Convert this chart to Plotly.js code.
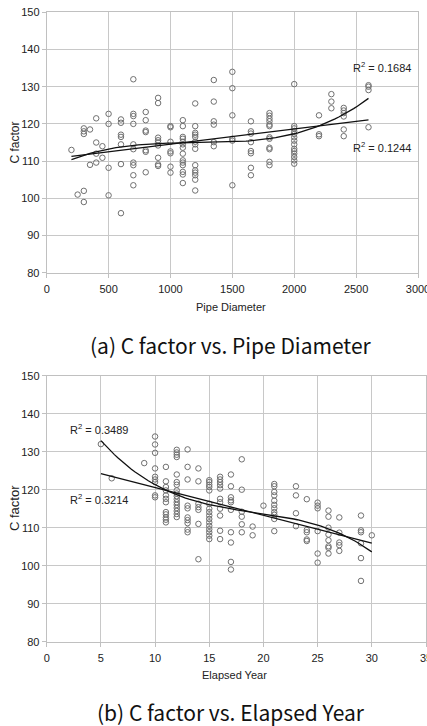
<!DOCTYPE html>
<html>
<head>
<meta charset="utf-8">
<script src="https://cdn.plot.ly/plotly-3.0.1.min.js"></script>
<style>html,body{margin:0;padding:0;background:#fff;}#chart{width:427px;height:726px;}</style>
</head>
<body>
<div id="chart"></div>
<script>
// ---------- Data: (a) C factor vs. Pipe Diameter ----------
const diameterGroups = [200, 250, 300, 350, 400, 450, 500, 600, 700, 800, 900, 1000, 1100, 1200, 1350, 1500, 1650, 1800, 2000, 2200, 2300, 2400, 2600];
const cFactorByDiameter = [
  [113],
  [101],
  [102, 99, 118.8, 118, 117.3],
  [118.5, 109],
  [121.5, 115, 112, 109.6],
  [114, 110.9],
  [122.7, 120, 108.2, 100.8],
  [121.2, 120.3, 117.1, 116.5, 114.5, 109.2, 96],
  [132, 122.7, 122.1, 120, 114.5, 113.2, 109.6, 108.9, 106.2, 103.5],
  [123.2, 121, 118.2, 117.8, 112.9, 112.5, 107],
  [127, 125.6, 116.3, 115.6, 115, 114.2, 110.9, 109.1, 108.7],
  [119.4, 119.1, 115.2, 112.6, 112.1, 108.5, 106.9],
  [121, 119.4, 116.5, 116, 115.2, 114.5, 113.6, 112, 110.2, 109.6, 108.9, 107.1, 106.4, 104.1],
  [125.5, 119.4, 117.6, 117.1, 116.5, 115.2, 114.5, 113.3, 108.9, 107.5, 106.9, 106.2, 105, 102.1],
  [131.8, 126, 120.7, 119.8, 115.1, 114],
  [134, 129.6, 122.3, 116, 115.5, 103.5],
  [120.7, 118, 117.4, 115.1, 112.7, 112.1, 108.2, 106.2],
  [122.9, 122.2, 121.4, 120.7, 119.8, 119.4, 116.4, 116, 113.6, 113.2, 109.8, 108.9],
  [130.7, 119.4, 118.8, 118, 117.3, 116.4, 115.5, 114.5, 113.3, 112.7, 112, 111.1, 110.2, 109.3],
  [122.3, 117.2, 116.7],
  [128, 126, 124.2],
  [124.3, 123.6, 122.9, 122, 118.5, 116.7],
  [130.4, 130, 129.1, 119.1]
];
const r2DiameterPoly = "R<sup>2</sup> = 0.1684";
const r2DiameterLinear = "R<sup>2</sup> = 0.1244";

// ---------- Data: (b) C factor vs. Elapsed Year ----------
const yearGroups = [5, 6, 9, 10, 11, 12, 13, 14, 15, 16, 17, 18, 19, 20, 21, 23, 24, 25, 26, 27, 29, 30];
const cFactorByYear = [
  [132],
  [123],
  [127],
  [134, 131.9, 129.7, 125.6, 123.4, 122.7, 122, 118.5, 118],
  [126, 122.2, 120.7, 119.8, 118.5, 117.6, 116.7, 114.1, 113.5, 112.7, 112.1, 111.4],
  [130.5, 129.8, 129.2, 128.6, 124, 122, 121.3, 119.8, 119, 118.3, 117.5, 116.7, 116, 115.2, 114.4, 113.6, 112.8],
  [130.6, 126, 122.7, 115.8, 115.1, 112.7, 112, 111.2, 109.5, 108.8],
  [125.6, 122.2, 116.3, 115.4, 114.7, 111, 101.7],
  [122.5, 122, 121.3, 120.7, 119.8, 116.3, 115, 114.1, 113.2, 112.3, 111.4, 110.5, 109.6, 108.8, 107.9, 107],
  [123.4, 122.7, 122, 121.2, 120.3, 117.6, 116.7, 115, 113.2, 109.2, 107],
  [124, 120.9, 118, 117.2, 116.7, 114.7, 108.8, 106.1, 101, 99],
  [128, 120, 114.2, 112.9, 110.9, 108.8],
  [110.3, 108],
  [115.8],
  [121.5, 120.9, 119.4, 118.5, 117.1, 116, 115.1, 114.1, 113.4, 112.3, 109.1],
  [120.9, 118.5, 113.8, 110.4],
  [117.5, 109.4, 108.8, 106.9, 106.5],
  [116.6, 115.8, 115.1, 109.1, 103.2, 100.8],
  [114.5, 112.9, 110, 108.2, 106.7, 105.1, 104.7, 103.2],
  [112.7, 108.7, 106.1, 105.4, 103.9],
  [113.2, 109.3, 108.8, 105.9, 102, 96],
  [108]
];
const r2YearPoly = "R<sup>2</sup> = 0.3489";
const r2YearLinear = "R<sup>2</sup> = 0.3214";

// ---------- helpers ----------
function flatten(groups, values) {
  const xs = [], ys = [];
  groups.forEach((g, i) => values[i].forEach(v => { xs.push(g); ys.push(v); }));
  return {xs, ys};
}
// least-squares polynomial fit (trend line derived from the data)
function polyfit(xs, ys, deg) {
  const s = Math.max(...xs);
  const n = deg + 1;
  const A = Array.from({length: n}, () => new Array(n + 1).fill(0));
  for (let k = 0; k < xs.length; k++) {
    const t = xs[k] / s;
    const pw = [];
    for (let p = 0; p <= 2 * deg; p++) pw.push(Math.pow(t, p));
    for (let i = 0; i < n; i++) {
      for (let j = 0; j < n; j++) A[i][j] += pw[i + j];
      A[i][n] += pw[i] * ys[k];
    }
  }
  for (let i = 0; i < n; i++) {
    let m = i;
    for (let r = i + 1; r < n; r++) if (Math.abs(A[r][i]) > Math.abs(A[m][i])) m = r;
    [A[i], A[m]] = [A[m], A[i]];
    for (let r = 0; r < n; r++) {
      if (r === i) continue;
      const f = A[r][i] / A[i][i];
      for (let c = i; c <= n; c++) A[r][c] -= f * A[i][c];
    }
  }
  const coef = A.map((row, i) => row[n] / row[i]);
  return x => coef.reduce((acc, c, p) => acc + c * Math.pow(x / s, p), 0);
}
function trendTrace(xs, ys, deg, xa, ya) {
  const f = polyfit(xs, ys, deg);
  const lo = Math.min(...xs), hi = Math.max(...xs);
  const tx = [], ty = [];
  const N = 80;
  for (let i = 0; i <= N; i++) { const x = lo + (hi - lo) * i / N; tx.push(x); ty.push(f(x)); }
  return {x: tx, y: ty, xaxis: xa, yaxis: ya, mode: 'lines', type: 'scatter',
          line: {color: '#111', width: 1.3}, hoverinfo: 'skip', showlegend: false};
}

const W = 427, H = 726;
const px = x => x / W;
const py = y => 1 - y / H;

const d1 = flatten(diameterGroups, cFactorByDiameter);
const d2 = flatten(yearGroups, cFactorByYear);

const markerStyle = {symbol: 'circle-open', size: 5.5, color: '#707070', line: {width: 1, color: '#707070'}};

const traces = [
  {x: d1.xs, y: d1.ys, xaxis: 'x', yaxis: 'y', mode: 'markers', type: 'scatter', marker: markerStyle, showlegend: false},
  trendTrace(d1.xs, d1.ys, 1, 'x', 'y'),
  trendTrace(d1.xs, d1.ys, 3, 'x', 'y'),
  {x: d2.xs, y: d2.ys, xaxis: 'x2', yaxis: 'y2', mode: 'markers', type: 'scatter', marker: markerStyle, showlegend: false},
  trendTrace(d2.xs, d2.ys, 1, 'x2', 'y2'),
  trendTrace(d2.xs, d2.ys, 3, 'x2', 'y2')
];

const tickFont = {family: 'Liberation Sans Narrow, Liberation Sans, Arial, sans-serif', size: 11, color: '#222'};
const gridC = '#c8c8c8';
function axisBase(extra) {
  return Object.assign({
    showgrid: true, gridcolor: gridC, gridwidth: 1, zeroline: false,
    showline: true, mirror: true, linecolor: '#c0c0c0', linewidth: 1,
    ticks: 'outside', ticklen: 4, tickcolor: '#c0c0c0',
    tickfont: tickFont, fixedrange: true, ticklabeloverflow: 'allow'
  }, extra);
}

const labFont = {family: 'Liberation Sans Narrow, Liberation Sans, Arial, sans-serif', size: 11, color: '#222'};
const capFont = {family: 'Noto Sans CJK KR, Noto Sans, sans-serif', size: 21, color: '#111'};
function ann(text, x, y, font, extra) {
  return Object.assign({text, x: px(x), y: py(y), xref: 'paper', yref: 'paper',
    xanchor: 'center', yanchor: 'middle', showarrow: false, font}, extra || {});
}

const layout = {
  width: W, height: H,
  margin: {l: 0, r: 0, t: 0, b: 0},
  paper_bgcolor: '#fff', plot_bgcolor: '#fff',
  showlegend: false,
  xaxis: axisBase({domain: [px(46.7), px(418)], range: [0, 3000], dtick: 500, tick0: 0, anchor: 'y', ticklabelstandoff: 2}),
  yaxis: axisBase({domain: [py(272.7), py(12.3)], range: [80, 150], dtick: 10, tick0: 80, anchor: 'x'}),
  xaxis2: axisBase({domain: [px(46.7), px(426)], range: [0, 35], dtick: 5, tick0: 0, anchor: 'y2', ticklabelstandoff: 2}),
  yaxis2: axisBase({domain: [py(641.7), py(375.7)], range: [80, 150], dtick: 10, tick0: 80, anchor: 'x2'}),
  annotations: [
    ann('C factor', 14, 142.5, {family: labFont.family, size: 12, color: '#222'}, {textangle: -90}),
    ann('Pipe Diameter', 231, 306.7, labFont),
    ann('(a) C factor vs. Pipe Diameter', 230.5, 345, capFont),
    ann(r2DiameterPoly, 382, 67, labFont),
    ann(r2DiameterLinear, 382, 146.7, labFont),
    ann('C factor', 14, 508, {family: labFont.family, size: 13, color: '#222'}, {textangle: -90}),
    ann('Elapsed Year', 234.5, 675, labFont),
    ann('(b) C factor vs. Elapsed Year', 230.8, 711.7, capFont),
    ann(r2YearPoly, 99, 429.3, labFont),
    ann(r2YearLinear, 99, 499.3, labFont)
  ]
};

Plotly.newPlot('chart', traces, layout, {displayModeBar: false, staticPlot: true});
</script>
</body>
</html>
